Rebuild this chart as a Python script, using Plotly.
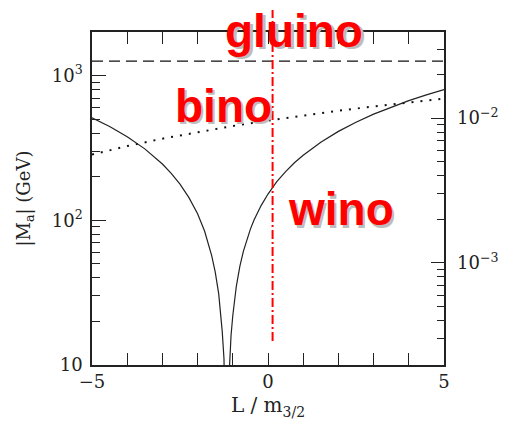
import plotly.graph_objects as go

# x = L / m_3/2
x_wino = [-5, -4.5, -4, -3.5, -3, -2.75, -2.5, -2.25, -2, -1.8, -1.6, -1.5, -1.4,
          -1.3, -1.25, -1.2, -1.17, -1.14, -1.1, -1.05, -1.0, -0.9, -0.8, -0.7,
          -0.6, -0.5, -0.4, -0.2, 0, 0.25, 0.5, 0.75, 1, 1.5, 2, 2.5, 3, 3.5,
          4, 4.5, 5]
m_wino = [512, 445, 378, 312, 245, 211, 178, 144, 111, 84, 57, 44, 31,
          17, 11, 4, 0.5, 4, 9, 16, 22, 35, 48, 61,
          74, 87, 100, 126, 152, 185, 217, 250, 282, 347, 412, 477, 542, 607,
          672, 737, 802]

x_bino = [-5, -4, -3, -2, -1, 0, 1, 2, 3, 4, 5]
m_bino = [285, 326, 367, 408, 449, 490, 531, 572, 613, 654, 695]

x_gluino = [-5, 5]
m_gluino = [1260, 1260]

x_mark = 0.13  # vertical dash-dot marker

x_ticks = [-5, 0, 5]
x_ticktext = ["\u22125", "0", "5"]
x_minor = [-4, -3, -2, -1, 1, 2, 3, 4]

y_ticks = [10, 100, 1000]
y_ticktext = ["10", "10<sup>2</sup>", "10<sup>3</sup>"]
y_minor = [20, 30, 40, 50, 60, 70, 80, 90,
           200, 300, 400, 500, 600, 700, 800, 900, 2000]

y2_ticks = [1e-3, 1e-2]
y2_ticktext = ["10<sup>\u22123</sup>", "10<sup>\u22122</sup>"]
y2_minor = [2e-4, 3e-4, 4e-4, 5e-4, 6e-4, 7e-4, 8e-4, 9e-4,
            2e-3, 3e-3, 4e-3, 5e-3, 6e-3, 7e-3, 8e-3, 9e-3,
            2e-2, 3e-2]

labels = ["gluino", "bino", "wino"]
label_x = [0.74, -1.265, 2.062]
label_y = [1.004, 0.778, 0.467]

axis_col = "#222222"
serif = "DejaVu Serif, Liberation Serif, serif"
sans = "Liberation Sans, Arial, sans-serif"

fig = go.Figure()
fig.add_trace(go.Scatter(x=x_gluino, y=m_gluino, mode="lines",
                         line=dict(color="#111111", width=1.3, dash="11px,6px"),
                         showlegend=False, hoverinfo="skip"))
fig.add_trace(go.Scatter(x=x_bino, y=m_bino, mode="lines",
                         line=dict(color="#111111", width=2, dash="2px,7px"),
                         showlegend=False, hoverinfo="skip"))
fig.add_trace(go.Scatter(x=x_wino, y=m_wino, mode="lines",
                         line=dict(color="#222222", width=1.2),
                         showlegend=False, hoverinfo="skip"))
# empty trace to carry the right-hand axis
fig.add_trace(go.Scatter(x=[], y=[], yaxis="y2", showlegend=False))

fig.add_shape(type="line", xref="x", yref="paper", x0=x_mark, x1=x_mark,
              y0=0.072, y1=1.066,
              line=dict(color="#ff0000", width=2, dash="9px,3px,2px,3px"))

for txt, lx, ly in zip(labels, label_x, label_y):
    fig.add_annotation(x=lx, y=ly, xref="x", yref="paper", text=txt,
                       xanchor="center", yanchor="middle",
                       showarrow=False, xshift=2.5, yshift=-2.5,
                       font=dict(family=sans, size=46, color="#bdbdbd",
                                 weight="bold"))
    fig.add_annotation(x=lx, y=ly, xref="x", yref="paper", text=txt,
                       xanchor="center", yanchor="middle",
                       showarrow=False,
                       font=dict(family=sans, size=46, color="#ff0000",
                                 weight="bold"))

fig.update_layout(
    width=510, height=425,
    margin=dict(l=92, r=63, t=32, b=58),
    paper_bgcolor="white", plot_bgcolor="white",
    font=dict(family=serif, size=18, color="#222222"),
    xaxis=dict(range=[-5, 5], showgrid=False, zeroline=False,
               showline=True, linecolor=axis_col, linewidth=1.5, mirror="allticks",
               ticks="inside", ticklen=12, tickwidth=1.2, tickcolor=axis_col,
               tickmode="array", tickvals=x_ticks, ticktext=x_ticktext,
               minor=dict(ticks="inside", tickvals=x_minor, ticklen=6,
                          tickwidth=1.2, tickcolor=axis_col),
               title=dict(text="L / m<sub>3/2</sub>", standoff=7,
                          font=dict(family=serif, size=20))),
    yaxis=dict(type="log", range=[1, 3.302], showgrid=False, zeroline=False,
               showline=True, linecolor=axis_col, linewidth=1.5, mirror=True,
               ticks="inside", ticklen=14, tickwidth=1.2, tickcolor=axis_col,
               tickmode="array", tickvals=y_ticks, ticktext=y_ticktext,
               ticklabelstandoff=4,
               minor=dict(ticks="inside", tickvals=y_minor, ticklen=8,
                          tickwidth=1.2, tickcolor=axis_col),
               title=dict(text="|M<sub>a</sub>| (GeV)", standoff=16,
                          font=dict(family=serif, size=18))),
    yaxis2=dict(type="log", range=[-3.705, -1.405], overlaying="y", side="right",
                anchor="x", showgrid=False, zeroline=False, showline=False,
                ticks="inside", ticklen=13, tickwidth=1.2, tickcolor=axis_col,
                tickmode="array", tickvals=y2_ticks, ticktext=y2_ticktext,
                ticklabelstandoff=12,
                minor=dict(ticks="inside", tickvals=y2_minor, ticklen=7,
                           tickwidth=1.2, tickcolor=axis_col)),
)

fig.write_html("out.html")
